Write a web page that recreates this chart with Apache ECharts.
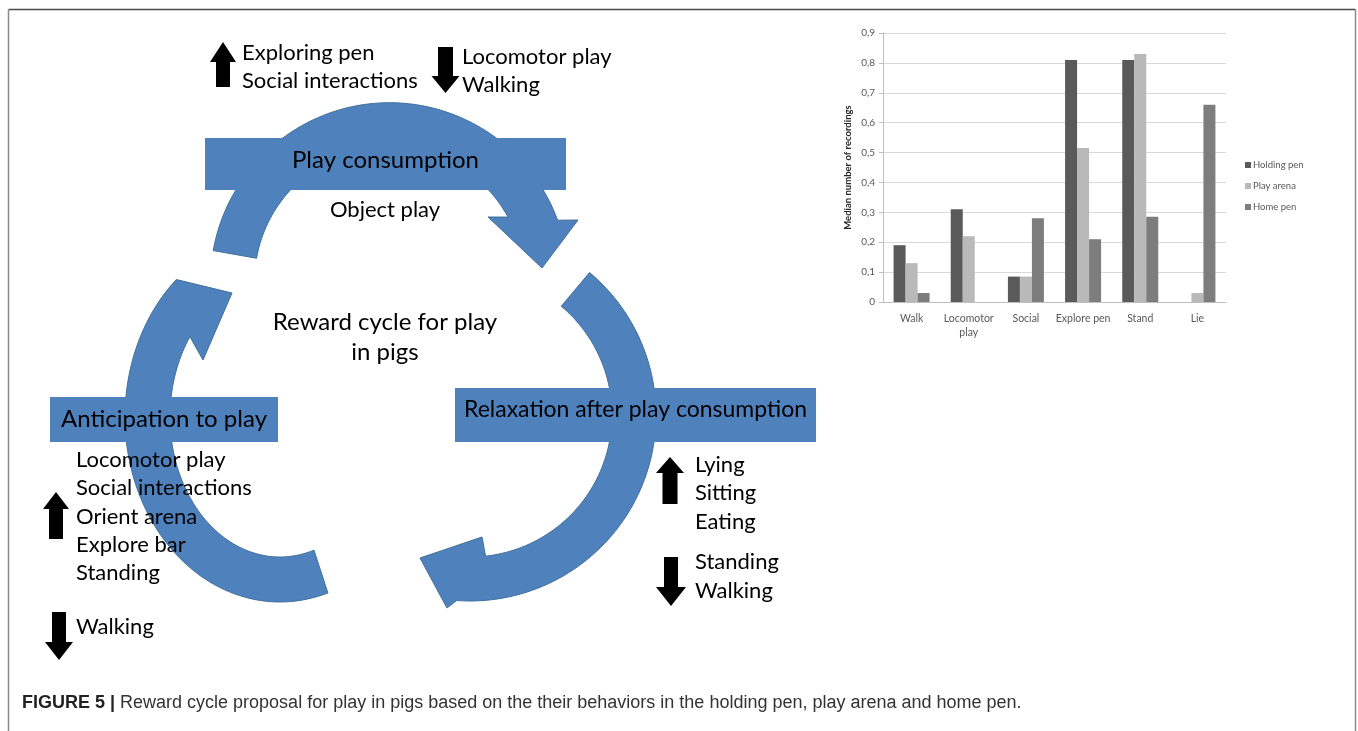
<!DOCTYPE html>
<html><head><meta charset="utf-8">
<script src="https://cdn.jsdelivr.net/npm/echarts@6/dist/echarts.min.js"></script>
<style>html,body{margin:0;padding:0;background:#fff}#c{width:1358px;height:731px}</style>
</head><body><div id="c"></div>
<script>
// ---- bar chart data ----
const categories = ['Walk', 'Locomotor\nplay', 'Social', 'Explore pen', 'Stand', 'Lie'];
const seriesNames = ['Holding pen', 'Play arena', 'Home pen'];
const holdingPen = [0.19, 0.31, 0.085, 0.81, 0.81, 0];
const playArena = [0.13, 0.22, 0.085, 0.515, 0.83, 0.03];
const homePen = [0.03, 0, 0.28, 0.21, 0.285, 0.66];
const barColors = ['#5a5a5a', '#b9b9b9', '#7d7d7d'];

// ---- diagram texts ----
const stageLabels = ['Play consumption', 'Relaxation after play consumption', 'Anticipation to play'];
const centerText = ['Reward cycle for play', 'in pigs'];
const topUp = ['Exploring pen', 'Social interactions'];
const topDown = ['Locomotor play', 'Walking'];
const topMiddle = 'Object play';
const leftUp = ['Locomotor play', 'Social interactions', 'Orient arena', 'Explore bar', 'Standing'];
const leftDown = ['Walking'];
const rightUp = ['Lying', 'Sitting', 'Eating'];
const rightDown = ['Standing', 'Walking'];
const captionBold = 'FIGURE 5 |';
const captionText = ' Reward cycle proposal for play in pigs based on the their behaviors in the holding pen, play arena and home pen.';

const BLUE = '#4f81bd';
const FONT = 'Lato, "Open Sans", sans-serif';

function ell(cx, cy, rx, ry, deg) {
  const t = deg * Math.PI / 180;
  return [cx + rx * Math.cos(t), cy + ry * Math.sin(t)];
}
function arcArrow(s) {
  const pts = [], n = 80;
  for (let i = 0; i <= n; i++) pts.push(ell(s.cx, s.cy, s.rxO, s.ryO, s.tail + (s.outEnd - s.tail) * i / n));
  s.head.forEach(p => pts.push(p));
  for (let i = 0; i <= n; i++) pts.push(ell(s.cx, s.cy, s.rxI, s.ryI, s.inEnd + (s.tail - s.inEnd) * i / n));
  return pts;
}
const arcs = [
  {cx: 389.5, cy: 281.7, rxO: 179, ryO: 179, rxI: 135, ryI: 135, tail: -170, outEnd: -20.1, inEnd: -28.6,
   head: [[578, 220], [542, 268], [488, 217]]},
  {cx: 470, cy: 415, rxO: 186, ryO: 186, rxI: 142, ryI: 142, tail: -50, outEnd: 94.1, inEnd: 83.7,
   head: [[447, 608], [420, 558], [482, 537]]},
  {cx: 280, cy: 417, rxO: 155, ryO: 185, rxI: 110, ryI: 140, tail: 72, outEnd: 228, inEnd: 215,
   head: [[232, 293], [203, 360]]}
];
function blockArrow(cx, yTail, yTip, shaftW, headW, headH) {
  const d = yTip > yTail ? 1 : -1;
  const yb = yTip - d * headH;
  return [[cx - shaftW / 2, yTail], [cx + shaftW / 2, yTail], [cx + shaftW / 2, yb], [cx + headW / 2, yb],
          [cx, yTip], [cx - headW / 2, yb], [cx - shaftW / 2, yb]];
}
const blackArrows = [
  blockArrow(223, 87, 42, 14, 26, 20),
  blockArrow(445.5, 47, 93, 15, 28, 17),
  blockArrow(56, 539, 492, 14, 26, 17),
  blockArrow(59, 612, 660, 14, 28, 18),
  blockArrow(670, 504, 457, 15, 28, 16),
  blockArrow(671, 557, 606, 14, 30, 19)
];
function txt(text, x, y, size, align) {
  return {type: 'text', z: 10, style: {text: text, x: x, y: y, fill: '#000', font: size + 'px ' + FONT,
    align: align || 'left', textAlign: align || 'left', verticalAlign: 'middle', textVerticalAlign: 'middle'}};
}
const graphics = [];
// frame
graphics.push({type: 'line', shape: {x1: 8.5, y1: 9.5, x2: 1355.5, y2: 9.5}, style: {stroke: '#4a4a4a', lineWidth: 1.5}});
graphics.push({type: 'line', shape: {x1: 8.5, y1: 9.5, x2: 8.5, y2: 731}, style: {stroke: '#8a8a8a', lineWidth: 1.5}});
graphics.push({type: 'line', shape: {x1: 1355.5, y1: 9.5, x2: 1355.5, y2: 731}, style: {stroke: '#8a8a8a', lineWidth: 1.5}});
arcs.forEach(a => graphics.push({type: 'polygon', z: 1, shape: {points: arcArrow(a)}, style: {fill: BLUE, stroke: '#41719c', lineWidth: 1}}));
// stage rectangles
graphics.push({type: 'rect', z: 2, shape: {x: 205, y: 138, width: 361, height: 52}, style: {fill: BLUE}});
graphics.push({type: 'rect', z: 2, shape: {x: 455, y: 388, width: 361, height: 54}, style: {fill: BLUE}});
graphics.push({type: 'rect', z: 2, shape: {x: 50, y: 397, width: 228, height: 45}, style: {fill: BLUE}});
blackArrows.forEach(p => graphics.push({type: 'polygon', z: 3, shape: {points: p}, style: {fill: '#000'}}));
graphics.push(txt(stageLabels[0], 385.5, 160, 24, 'center'));
graphics.push(txt(stageLabels[1], 635.5, 410, 23, 'center'));
graphics.push(txt(stageLabels[2], 164, 419, 24, 'center'));
graphics.push(txt(centerText[0], 385, 322, 24, 'center'));
graphics.push(txt(centerText[1], 385, 352, 24, 'center'));
graphics.push(txt(topMiddle, 385, 210, 22, 'center'));
topUp.forEach((t, i) => graphics.push(txt(t, 242, 53 + i * 28, 22)));
topDown.forEach((t, i) => graphics.push(txt(t, 462, 57 + i * 28, 22)));
leftUp.forEach((t, i) => graphics.push(txt(t, 76, 460 + i * 28.3, 22)));
leftDown.forEach((t, i) => graphics.push(txt(t, 76, 627 + i * 28, 22)));
rightUp.forEach((t, i) => graphics.push(txt(t, 695, 465 + i * 28.3, 22)));
rightDown.forEach((t, i) => graphics.push(txt(t, 695, 562 + i * 29, 22)));
graphics.push({type: 'text', z: 10, style: {
  text: '{b|' + captionBold + '}{r|' + captionText + '}', x: 22, y: 703,
  verticalAlign: 'middle', textVerticalAlign: 'middle',
  rich: {
    b: {fontFamily: '"Liberation Sans", Arial, sans-serif', fontWeight: 'bold', fontSize: 18, fill: '#222', color: '#222'},
    r: {fontFamily: '"Liberation Sans", Arial, sans-serif', fontSize: 18, fill: '#333', color: '#333'}
  }}});

const chart = echarts.init(document.getElementById('c'), null, {renderer: 'canvas'});
const barData = [holdingPen, playArena, homePen];
chart.setOption({
  animation: false,
  backgroundColor: '#ffffff',
  textStyle: {fontFamily: FONT},
  grid: {left: 883, top: 33, width: 343, height: 269},
  legend: {
    orient: 'vertical', left: 1240, top: 155, itemWidth: 6, itemHeight: 6, itemGap: 11,
    icon: 'rect', data: seriesNames,
    textStyle: {fontSize: 9.5, color: '#595959', fontFamily: FONT, lineHeight: 10, padding: [0, 0, 0, -3]}
  },
  xAxis: {
    type: 'category', data: categories,
    axisLine: {lineStyle: {color: '#bfbfbf'}},
    axisTick: {length: 5, lineStyle: {color: '#bfbfbf'}},
    axisLabel: {color: '#595959', fontSize: 10.5, margin: 10, lineHeight: 14, interval: 0, fontFamily: FONT}
  },
  yAxis: {
    type: 'value', min: 0, max: 0.9, interval: 0.1,
    name: 'Median number of recordings', nameLocation: 'middle', nameGap: 30,
    nameTextStyle: {fontWeight: 'bold', fontSize: 9.5, color: '#262626', fontFamily: FONT},
    axisLine: {show: true, lineStyle: {color: '#bfbfbf'}},
    axisTick: {show: true, length: 4, lineStyle: {color: '#bfbfbf'}},
    splitLine: {lineStyle: {color: '#d9d9d9'}},
    axisLabel: {color: '#595959', fontSize: 10, margin: 8, fontFamily: FONT,
      formatter: v => v === 0 ? '0' : v.toFixed(1).replace('.', ',')}
  },
  series: seriesNames.map((n, i) => ({
    name: n, type: 'bar', data: barData[i], barWidth: 12, barGap: '0%',
    itemStyle: {color: barColors[i]}
  })),
  graphic: {elements: graphics}
});
</script></body></html>
